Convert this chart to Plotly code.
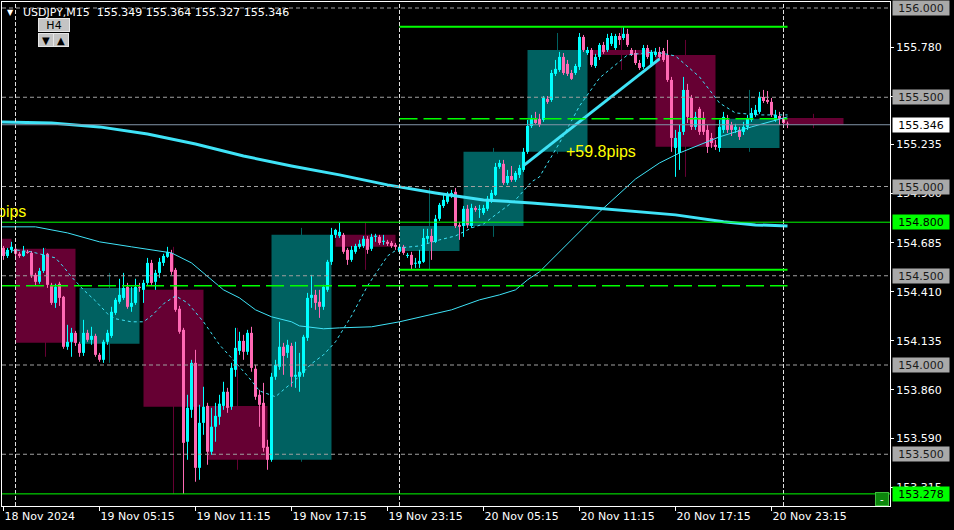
import plotly.graph_objects as go

FONT = "DejaVu Sans"

# ---------------- DATA ----------------
# USDJPY M15 bars; bar 0 = 18 Nov 23:15, one bar per 15 minutes
opens = [
    154.656, 154.611, 154.645, 154.651, 154.623, 154.611, 154.634, 154.628, 154.505, 154.466,
    154.527, 154.623, 154.449, 154.348, 154.455, 154.382, 154.102, 154.130, 154.180, 154.119,
    154.068, 154.180, 154.141, 154.163, 154.057, 154.029, 154.130, 154.163, 154.292, 154.354,
    154.376, 154.438, 154.326, 154.348, 154.438, 154.421, 154.460, 154.572, 154.466, 154.516,
    154.572, 154.606, 154.628, 154.533, 154.315, 154.197, 153.570, 153.749, 154.012, 153.424,
    153.676, 153.771, 153.514, 153.654, 153.710, 153.771, 153.850, 153.766, 153.973, 154.079,
    154.135, 154.074, 154.180, 153.979, 153.833, 153.788, 153.542, 153.469, 153.934, 153.990,
    154.102, 154.068, 154.107, 153.934, 153.934, 153.956, 154.152, 154.376, 154.393, 154.354,
    154.326, 154.421, 154.578, 154.729, 154.723, 154.729, 154.645, 154.589, 154.634, 154.662,
    154.667, 154.707, 154.651, 154.718, 154.718, 154.690, 154.690, 154.684, 154.673, 154.634,
    154.662, 154.611, 154.617, 154.567, 154.567, 154.578, 154.707, 154.723, 154.690, 154.819,
    154.891, 154.914, 154.953, 154.970, 154.785, 154.779, 154.875, 154.779, 154.880, 154.869,
    154.852, 154.875, 154.925, 154.953, 155.110, 155.127, 155.020, 155.059, 155.037, 155.065,
    155.093, 155.194, 155.339, 155.384, 155.379, 155.373, 155.491, 155.485, 155.631, 155.653,
    155.726, 155.687, 155.636, 155.636, 155.670, 155.838, 155.748, 155.765, 155.675, 155.726,
    155.793, 155.765, 155.799, 155.776, 155.843, 155.832, 155.855, 155.765, 155.748, 155.692,
    155.670, 155.776, 155.681, 155.737, 155.754, 155.759, 155.737, 155.597, 155.216, 155.188,
    155.306, 155.541, 155.496, 155.334, 155.435, 155.384, 155.317, 155.272, 155.233, 155.216,
    155.317, 155.373, 155.345, 155.317, 155.317, 155.306, 155.334, 155.373, 155.401, 155.418,
    155.502, 155.485, 155.474, 155.373, 155.395, 155.384, 155.349,
]
highs = [
    154.667, 154.656, 154.690, 154.656, 154.634, 154.667, 154.645, 154.639, 154.516, 154.544,
    154.656, 154.628, 154.460, 154.455, 154.466, 154.387, 154.225, 154.208, 154.191, 154.130,
    154.253, 154.197, 154.214, 154.175, 154.068, 154.141, 154.197, 154.326, 154.376, 154.483,
    154.516, 154.460, 154.438, 154.483, 154.460, 154.477, 154.600, 154.589, 154.533, 154.600,
    154.623, 154.662, 154.645, 154.544, 154.331, 154.208, 153.833, 154.029, 154.085, 153.777,
    153.878, 153.788, 153.760, 153.788, 153.833, 153.906, 153.872, 154.012, 154.208, 154.186,
    154.169, 154.197, 154.214, 154.001, 153.861, 153.900, 153.581, 153.956, 154.029, 154.242,
    154.124, 154.141, 154.124, 154.130, 154.068, 154.169, 154.404, 154.505, 154.421, 154.421,
    154.449, 154.589, 154.768, 154.763, 154.796, 154.740, 154.656, 154.667, 154.679, 154.701,
    154.723, 154.723, 154.735, 154.735, 154.729, 154.729, 154.701, 154.695, 154.684, 154.679,
    154.673, 154.628, 154.634, 154.600, 154.645, 154.763, 154.763, 154.763, 154.841, 154.908,
    154.953, 154.970, 154.981, 154.992, 154.802, 154.891, 154.897, 154.903, 154.891, 154.897,
    154.897, 154.947, 154.981, 155.132, 155.149, 155.149, 155.093, 155.115, 155.087, 155.121,
    155.216, 155.373, 155.401, 155.418, 155.407, 155.507, 155.507, 155.653, 155.709, 155.754,
    155.748, 155.709, 155.653, 155.687, 155.860, 155.849, 155.782, 155.776, 155.743, 155.804,
    155.810, 155.855, 155.860, 155.855, 155.860, 155.895, 155.883, 155.776, 155.765, 155.709,
    155.793, 155.793, 155.765, 155.776, 155.782, 155.776, 155.821, 155.614, 155.317, 155.345,
    155.614, 155.575, 155.513, 155.418, 155.446, 155.418, 155.345, 155.300, 155.261, 155.373,
    155.418, 155.401, 155.362, 155.351, 155.334, 155.362, 155.401, 155.440, 155.457, 155.530,
    155.541, 155.535, 155.496, 155.429, 155.418, 155.407, 155.364,
]
lows = [
    154.589, 154.600, 154.628, 154.611, 154.600, 154.606, 154.623, 154.488, 154.443, 154.455,
    154.516, 154.432, 154.337, 154.320, 154.331, 154.091, 154.085, 154.046, 154.107, 154.046,
    154.051, 154.130, 154.113, 154.046, 154.018, 154.012, 154.113, 154.152, 154.281, 154.343,
    154.365, 154.315, 154.298, 154.337, 154.410, 154.348, 154.449, 154.449, 154.421, 154.488,
    154.555, 154.600, 154.505, 154.298, 154.175, 153.278, 153.469, 153.704, 153.346, 153.357,
    153.609, 153.441, 153.497, 153.570, 153.665, 153.749, 153.732, 153.749, 153.934, 154.057,
    154.029, 154.057, 153.962, 153.805, 153.654, 153.514, 153.413, 153.458, 153.917, 153.973,
    153.945, 154.040, 153.878, 153.872, 153.850, 153.934, 154.135, 154.320, 154.309, 154.264,
    154.309, 154.410, 154.561, 154.712, 154.712, 154.623, 154.561, 154.578, 154.623, 154.651,
    154.656, 154.623, 154.639, 154.690, 154.673, 154.673, 154.667, 154.656, 154.645, 154.623,
    154.617, 154.600, 154.533, 154.544, 154.544, 154.572, 154.684, 154.589, 154.684, 154.807,
    154.880, 154.903, 154.936, 154.768, 154.701, 154.718, 154.768, 154.768, 154.858, 154.824,
    154.841, 154.863, 154.908, 154.947, 155.099, 155.009, 155.009, 155.026, 155.026, 155.048,
    155.082, 155.183, 155.328, 155.351, 155.334, 155.362, 155.463, 155.474, 155.619, 155.642,
    155.625, 155.619, 155.597, 155.625, 155.653, 155.754, 155.737, 155.670, 155.664, 155.709,
    155.743, 155.754, 155.787, 155.765, 155.793, 155.821, 155.782, 155.731, 155.681, 155.653,
    155.659, 155.715, 155.670, 155.726, 155.715, 155.698, 155.586, 155.194, 155.054, 155.093,
    155.289, 155.356, 155.317, 155.317, 155.289, 155.289, 155.188, 155.216, 155.205, 155.194,
    155.300, 155.300, 155.283, 155.300, 155.261, 155.289, 155.317, 155.362, 155.390, 155.407,
    155.468, 155.463, 155.390, 155.362, 155.345, 155.339, 155.327,
]
closes = [
    154.611, 154.645, 154.662, 154.623, 154.611, 154.639, 154.628, 154.505, 154.466, 154.527,
    154.617, 154.449, 154.348, 154.438, 154.376, 154.102, 154.130, 154.180, 154.124, 154.068,
    154.180, 154.141, 154.163, 154.057, 154.029, 154.130, 154.180, 154.298, 154.365, 154.393,
    154.432, 154.326, 154.348, 154.438, 154.432, 154.460, 154.572, 154.460, 154.516, 154.578,
    154.611, 154.634, 154.522, 154.309, 154.186, 153.564, 153.760, 154.012, 153.424, 153.676,
    153.766, 153.514, 153.654, 153.715, 153.783, 153.850, 153.760, 153.984, 154.096, 154.135,
    154.074, 154.180, 153.984, 153.822, 153.777, 153.536, 153.469, 153.934, 154.001, 154.102,
    154.051, 154.113, 153.934, 153.945, 153.962, 154.158, 154.376, 154.393, 154.348, 154.326,
    154.438, 154.578, 154.729, 154.757, 154.746, 154.634, 154.589, 154.645, 154.667, 154.679,
    154.707, 154.645, 154.718, 154.719, 154.684, 154.695, 154.679, 154.667, 154.662, 154.662,
    154.628, 154.617, 154.561, 154.572, 154.583, 154.712, 154.723, 154.690, 154.819, 154.897,
    154.925, 154.953, 154.964, 154.779, 154.774, 154.875, 154.785, 154.880, 154.869, 154.870,
    154.880, 154.931, 154.964, 155.110, 155.132, 155.020, 155.059, 155.037, 155.076, 155.104,
    155.194, 155.339, 155.384, 155.356, 155.345, 155.496, 155.474, 155.636, 155.659, 155.726,
    155.636, 155.631, 155.603, 155.675, 155.838, 155.765, 155.765, 155.681, 155.726, 155.793,
    155.754, 155.832, 155.843, 155.843, 155.821, 155.855, 155.793, 155.737, 155.692, 155.664,
    155.776, 155.726, 155.754, 155.754, 155.726, 155.709, 155.597, 155.272, 155.272, 155.306,
    155.541, 155.390, 155.334, 155.390, 155.306, 155.306, 155.222, 155.244, 155.222, 155.334,
    155.390, 155.317, 155.317, 155.334, 155.278, 155.334, 155.384, 155.412, 155.429, 155.502,
    155.479, 155.474, 155.401, 155.401, 155.379, 155.356, 155.346,
]

# H4 candles overlaid (first M15 bar of each 4-hour block)
h4_start = [-13, 3, 19, 35, 51, 67, 83, 99, 115, 131, 147, 163, 179, 195]
h4_open = [154.707, 154.651, 154.119, 154.421, 153.771, 153.469, 154.729, 154.639, 154.779, 155.194, 155.765, 155.737, 155.216, 155.384]
h4_high = [154.723, 154.656, 154.516, 154.662, 154.208, 154.768, 154.796, 154.992, 155.216, 155.860, 155.895, 155.821, 155.541, 155.407]
h4_low = [154.578, 154.046, 154.012, 153.278, 153.413, 153.458, 154.533, 154.533, 154.718, 155.183, 155.653, 155.054, 155.194, 155.327]
h4_close = [154.656, 154.124, 154.432, 153.766, 153.469, 154.729, 154.662, 154.779, 155.194, 155.765, 155.737, 155.222, 155.379, 155.346]

# moving averages (bar index, price)
ma_slow_bars = [-1, 12, 24, 36, 48, 60, 72, 84, 96, 108, 120, 132, 144, 156, 168, 180, 188, 196]
ma_slow_vals = [155.362, 155.356, 155.334, 155.294, 155.238, 155.171, 155.115, 155.065, 155.009, 154.964,
                154.925, 154.908, 154.886, 154.863, 154.841, 154.802, 154.785, 154.779]
ma_mid_bars = [-1, 8, 16, 24, 32, 37, 42, 47, 51, 55, 59, 63, 67, 72, 74, 80, 84, 92, 99, 112,
               119, 124, 128, 131, 134, 139, 144, 149, 158, 164, 169, 179, 187, 196]
ma_mid_vals = [154.774, 154.774, 154.740, 154.690, 154.662, 154.645, 154.628, 154.572, 154.494, 154.421,
               154.376, 154.309, 154.270, 154.242, 154.219, 154.203, 154.208, 154.214, 154.242, 154.309,
               154.365, 154.393, 154.421, 154.477, 154.522, 154.634, 154.746, 154.858, 155.042, 155.132,
               155.188, 155.278, 155.334, 155.390]
ma_fast_bars = [-1, 3, 7, 10, 13, 15, 17, 20, 23, 26, 28, 32, 35, 37, 40, 43, 46, 50, 54, 57,
                61, 64, 68, 70, 73, 77, 80, 83, 87, 91, 96, 99, 104, 109, 113, 117, 120, 123, 128, 132,
                134, 139, 144, 149, 156, 163, 168, 174, 179, 183, 189, 196]
ma_fast_vals = [154.617, 154.645, 154.634, 154.617, 154.600, 154.550, 154.494, 154.421, 154.359, 154.287,
                154.259, 154.242, 154.242, 154.275, 154.343, 154.387, 154.348, 154.242, 154.113, 154.040,
                153.939, 153.855, 153.822, 153.861, 153.917, 154.007, 154.057, 154.130, 154.275, 154.443,
                154.611, 154.656, 154.667, 154.701, 154.723, 154.768, 154.790, 154.841, 154.925, 155.026,
                155.054, 155.244, 155.451, 155.608, 155.737, 155.754, 155.731, 155.614, 155.468, 155.412,
                155.401, 155.401]

trend_bars = [130, 164]
trend_vals = [155.117, 155.715]

day_separator_bars = [3, 99, 195]
round_levels = [156.000, 155.500, 155.000, 154.500, 154.000, 153.500]
bid_price = 155.346
green_full_level = 154.800
low_level = 153.278
day_high = 155.895
day_low = 154.533
dashed_level_full = 154.444
dashed_level_day = 155.379
level_end_bar = 196

x_tick_bars = [0, 24, 48, 72, 96, 120, 144, 168, 192]
x_tick_labels = ["18 Nov 2024", "19 Nov 05:15", "19 Nov 11:15", "19 Nov 17:15", "19 Nov 23:15",
                 "20 Nov 05:15", "20 Nov 11:15", "20 Nov 17:15", "20 Nov 23:15"]
y_tick_vals = [155.780, 155.505, 155.235, 154.960, 154.685, 154.410, 154.135, 153.860, 153.590, 153.315]

pips_labels = [("+59.8pips", 140, 155.194, "left"), ("pips", 6.2, 154.858, "right")]
title_text = "USDJPY,M15\u00a0 155.349 155.364 155.327 155.346"

# ---------------- STYLE ----------------
BULL = "#00FFFF"
BEAR = "#FF69B4"
H4_BULL = "#006161"
H4_BEAR = "#660033"
MA_COL = "#3FE3F7"
GREEN = "#00FF00"
X_RANGE = [-0.375, 221.625]
Y_RANGE = [153.2101, 156.0336]

fig = go.Figure()

# H4 wicks
for col, bull in ((H4_BULL, True), (H4_BEAR, False)):
    xs, ys = [], []
    for s, o, h, l, c in zip(h4_start, h4_open, h4_high, h4_low, h4_close):
        if (c >= o) == bull:
            xs += [s + 7.5, s + 7.5, None]
            ys += [l, h, None]
    fig.add_trace(go.Scatter(x=xs, y=ys, mode="lines", line=dict(color=col, width=1),
                             hoverinfo="skip", showlegend=False))

# H4 bodies
fig.add_trace(go.Bar(
    x=[s + 7.5 for s in h4_start],
    y=[max(abs(c - o), 0.006) for o, c in zip(h4_open, h4_close)],
    base=[min(o, c) for o, c in zip(h4_open, h4_close)],
    width=15,
    marker=dict(color=[H4_BULL if c >= o else H4_BEAR for o, c in zip(h4_open, h4_close)],
                line=dict(width=0)),
    hoverinfo="skip", showlegend=False))

bars = list(range(len(closes)))

# M15 wicks
for col, bull in ((BULL, True), (BEAR, False)):
    xs, ys = [], []
    for k, o, h, l, c in zip(bars, opens, highs, lows, closes):
        if (c >= o) == bull:
            xs += [k, k, None]
            ys += [l, h, None]
    fig.add_trace(go.Scatter(x=xs, y=ys, mode="lines", line=dict(color=col, width=1),
                             hoverinfo="skip", showlegend=False))

# M15 bodies
fig.add_trace(go.Bar(
    x=bars,
    y=[max(abs(c - o), 0.006) for o, c in zip(opens, closes)],
    base=[min(o, c) for o, c in zip(opens, closes)],
    width=0.75,
    marker=dict(color=[BULL if c >= o else BEAR for o, c in zip(opens, closes)],
                line=dict(width=0)),
    hoverinfo="skip", showlegend=False))

# moving averages
fig.add_trace(go.Scatter(x=ma_mid_bars, y=ma_mid_vals, mode="lines",
                         line=dict(color=MA_COL, width=1), hoverinfo="skip", showlegend=False))
fig.add_trace(go.Scatter(x=ma_fast_bars, y=ma_fast_vals, mode="lines",
                         line=dict(color=MA_COL, width=1, dash="3px,3px"), hoverinfo="skip", showlegend=False))
fig.add_trace(go.Scatter(x=ma_slow_bars, y=ma_slow_vals, mode="lines",
                         line=dict(color=MA_COL, width=3), hoverinfo="skip", showlegend=False))
# trend line
fig.add_trace(go.Scatter(x=trend_bars, y=trend_vals, mode="lines",
                         line=dict(color=MA_COL, width=3), hoverinfo="skip", showlegend=False))

shapes = []
for lv in round_levels:
    shapes.append(dict(type="line", xref="paper", x0=0, x1=1, yref="y", y0=lv, y1=lv,
                       line=dict(color="#A0A0A0", width=1, dash="4px,3px"), layer="above"))
for b in day_separator_bars:
    shapes.append(dict(type="line", xref="x", x0=b, x1=b, yref="paper", y0=0, y1=1,
                       line=dict(color="#E0E0E0", width=1, dash="4px,2px"), layer="above"))
shapes.append(dict(type="line", xref="paper", x0=0, x1=1, yref="y", y0=bid_price, y1=bid_price,
                   line=dict(color="#8294A8", width=1), layer="above"))
shapes.append(dict(type="line", xref="paper", x0=0, x1=1, yref="y", y0=green_full_level, y1=green_full_level,
                   line=dict(color=GREEN, width=1), layer="above"))
shapes.append(dict(type="line", xref="paper", x0=0, x1=1, yref="y", y0=low_level, y1=low_level,
                   line=dict(color=GREEN, width=1), layer="above"))
for lv in (day_high, day_low):
    shapes.append(dict(type="line", xref="x", x0=day_separator_bars[1], x1=level_end_bar, yref="y", y0=lv, y1=lv,
                       line=dict(color=GREEN, width=2), layer="above"))
shapes.append(dict(type="line", xref="x", x0=day_separator_bars[1], x1=level_end_bar, yref="y",
                   y0=dashed_level_day, y1=dashed_level_day,
                   line=dict(color=GREEN, width=1.5, dash="18px,6px"), layer="above"))
shapes.append(dict(type="line", xref="x", x0=X_RANGE[0], x1=level_end_bar, yref="y",
                   y0=dashed_level_full, y1=dashed_level_full,
                   line=dict(color=GREEN, width=1.5, dash="18px,6px"), layer="above"))


def pxx(px):
    return (px - 2) / 888.0


def pxy(py):
    return 1 - (py - 2) / 504.0


annotations = []


def price_box(val, bg, fg="#000000"):
    annotations.append(dict(xref="paper", x=1, xanchor="left", xshift=2, yref="y", y=val, yanchor="middle",
                            text=f"{val:.3f}", showarrow=False, bgcolor=bg, width=56, height=14, borderpad=0,
                            align="center", font=dict(family=FONT, size=11, color=fg)))


for lv in round_levels:
    price_box(lv, "#A9A9A9", "#1A1A1A")
price_box(bid_price, "#FFFFFF")
price_box(green_full_level, GREEN)
price_box(low_level, GREEN)

for txt, xb, yv, anchor in pips_labels:
    annotations.append(dict(xref="x", x=xb, yref="y", y=yv, xanchor=anchor, yanchor="middle", text=txt,
                            showarrow=False, font=dict(family="Liberation Sans", size=16, color="#FFFF00")))

annotations.append(dict(xref="paper", yref="paper", x=pxx(21), y=pxy(12), xanchor="left", yanchor="middle",
                        text=title_text, showarrow=False, font=dict(family=FONT, size=11, color="#FFFFFF")))
annotations.append(dict(xref="paper", yref="paper", x=pxx(10), y=pxy(12), xanchor="center", yanchor="middle",
                        text="\u25bc", showarrow=False, font=dict(family=FONT, size=8, color="#FFFFFF")))
for txt, cx, cy, w in (("H4", 54, 25, 30), ("\u25bc", 46, 40.5, 14), ("\u25b2", 61.5, 40.5, 14)):
    annotations.append(dict(xref="paper", yref="paper", x=pxx(cx), y=pxy(cy), xanchor="center", yanchor="middle",
                            text=txt, showarrow=False, bgcolor="#C4C4C4", bordercolor="#E6E6E6", borderwidth=1,
                            width=w, height=12, borderpad=0,
                            font=dict(family=FONT, size=11 if txt == "H4" else 10, color="#000000")))
annotations.append(dict(xref="paper", yref="paper", x=pxx(882), y=pxy(499), xanchor="center", yanchor="middle",
                        text="-", showarrow=False, bgcolor="#0C860C", bordercolor="#3DBB3D", borderwidth=1,
                        width=12, height=12, borderpad=0, font=dict(family=FONT, size=10, color="#FFFFFF")))

fig.update_layout(
    width=954, height=530, autosize=False,
    margin=dict(l=2, r=64, t=2, b=24, pad=0),
    paper_bgcolor="#000000", plot_bgcolor="#000000",
    barmode="overlay", showlegend=False, hovermode=False,
    shapes=shapes, annotations=annotations,
    xaxis=dict(range=X_RANGE, showgrid=False, zeroline=False, showline=True, mirror=True,
               linecolor="#FFFFFF", linewidth=1, ticks="outside", ticklen=4, tickcolor="#FFFFFF",
               tickvals=x_tick_bars, ticktext=x_tick_labels, ticklabelposition="outside right",
               tickfont=dict(family=FONT, size=11, color="#FFFFFF"), fixedrange=True),
    yaxis=dict(range=Y_RANGE, side="right", showgrid=False, zeroline=False, showline=True, mirror=True,
               linecolor="#FFFFFF", linewidth=1, ticks="outside", ticklen=3, tickcolor="#FFFFFF",
               tickvals=y_tick_vals, ticktext=[f"{v:.3f}" for v in y_tick_vals],
               tickfont=dict(family=FONT, size=11, color="#FFFFFF"), fixedrange=True),
)

fig.write_html(
    "out.html",
    config={"displayModeBar": False, "staticPlot": True},
    post_script="document.body.style.margin='0';document.body.style.padding='0';"
                "document.body.style.background='#000';document.body.style.overflow='hidden';",
)
